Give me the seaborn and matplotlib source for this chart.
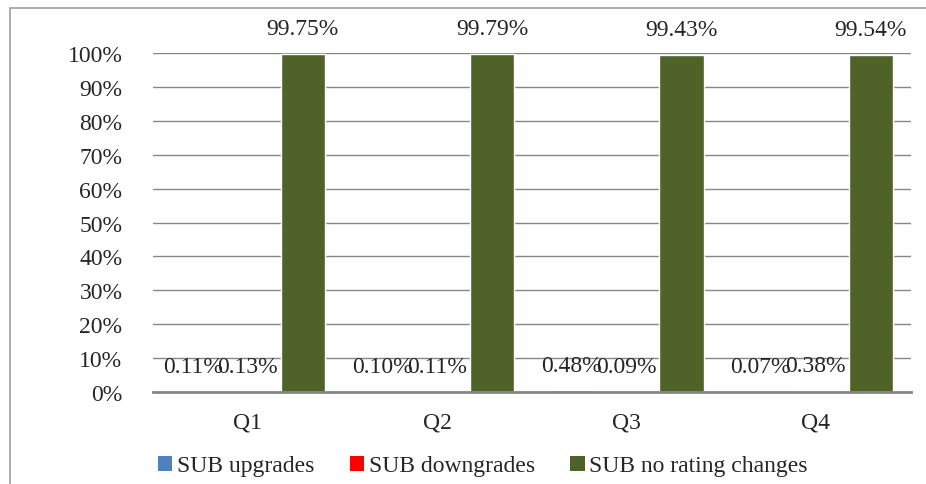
import pandas as pd
import seaborn as sns
from matplotlib import pyplot as plt
from matplotlib.patches import Patch, Rectangle

# chart values (percent)
quarters = ['Q1', 'Q2', 'Q3', 'Q4']
series_names = ['SUB upgrades', 'SUB downgrades', 'SUB no rating changes']
upgrades = [0.11, 0.10, 0.48, 0.07]
downgrades = [0.13, 0.11, 0.09, 0.38]
no_changes = [99.75, 99.79, 99.43, 99.54]
colors = ['#4F81BD', '#FF0000', '#4F6228']

sns.set_style('white')
plt.rcParams['font.family'] = ['Liberation Serif', 'DejaVu Serif']
plt.rcParams['font.size'] = 17

rows = []
for name, vals in zip(series_names, [upgrades, downgrades, no_changes]):
    for q, v in zip(quarters, vals):
        rows.append({'quarter': q, 'series': name, 'value': v / 100})
df = pd.DataFrame(rows)

fig = plt.figure(figsize=(9.26, 4.85), dpi=100)
ax = fig.add_axes([153 / 926, 1 - 393 / 485, (910.5 - 153) / 926, (393 - 54) / 485])

sns.barplot(data=df, x='quarter', y='value', hue='series', palette=colors,
            width=0.872, gap=0.2, saturation=1, ax=ax, legend=False, zorder=3)

ax.set_ylim(0, 1)
ax.set_yticks([i / 10 for i in range(11)])
ax.set_yticklabels([f'{i * 10}%' for i in range(11)])
ax.set_xlabel('')
ax.set_ylabel('')
ax.yaxis.grid(True, color='#868686', lw=1, zorder=0)
ax.tick_params(axis='y', length=0, pad=22)
ax.tick_params(axis='x', length=0, pad=14)
for side in ['left', 'right', 'top']:
    ax.spines[side].set_visible(False)
ax.spines['bottom'].set_color('#868686')
ax.spines['bottom'].set_linewidth(2)
ax.spines['bottom'].set_zorder(4)

# data labels
for cont in ax.containers:
    for bar in cont:
        h = bar.get_height()
        ax.annotate(f'{h * 100:.2f}%', (bar.get_x() + bar.get_width() / 2, h),
                    xytext=(0, 18), textcoords='offset points',
                    ha='center', va='center', annotation_clip=False, zorder=5)

# legend
handles = [Patch(facecolor=c, edgecolor='none') for c in colors]
fig.legend(handles, series_names, loc='center', bbox_to_anchor=(483 / 926, 1 - 467 / 485),
           ncol=3, frameon=False, handlelength=0.6, handleheight=0.6,
           handletextpad=0.2, columnspacing=1.5, borderaxespad=0)

# outer chart border
fig.patches.append(Rectangle((10 / 926, -0.1), 1.0, 1 - 8.5 / 485 + 0.1,
                             transform=fig.transFigure, fill=False,
                             edgecolor='#A0A0A0', lw=1.2))

plt.savefig('out.png', dpi=100)
plt.close()
